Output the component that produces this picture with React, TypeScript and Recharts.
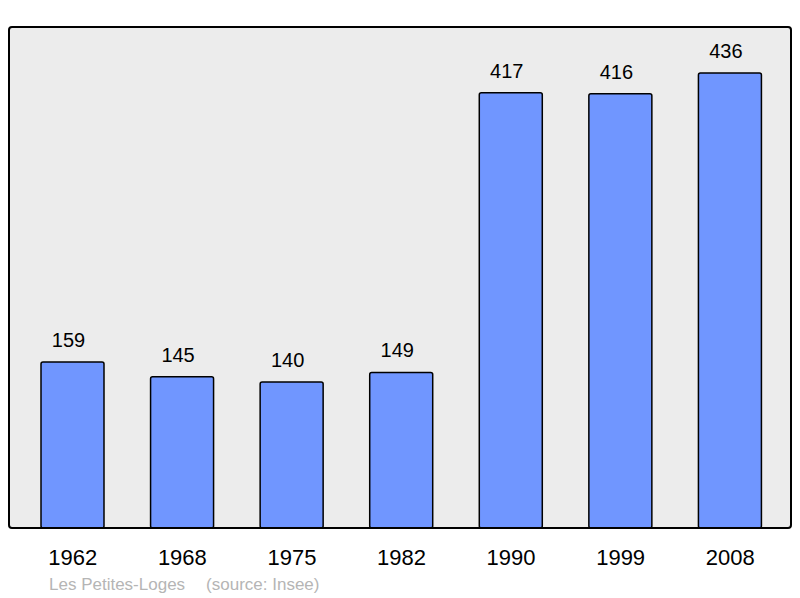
import React from "react";
import { BarChart, Bar, XAxis, YAxis, LabelList } from "recharts";

const years = ["1962", "1968", "1975", "1982", "1990", "1999", "2008"];
const population = [159, 145, 140, 149, 417, 416, 436];
const commune = "Les Petites-Loges";
const source = "(source: Insee)";

const data = years.map((year, i) => ({ year, value: population[i] }));

export default function App() {
  return (
    <div
      style={{
        position: "absolute",
        left: 0,
        top: 0,
        width: 800,
        height: 598,
        background: "#fff",
        fontFamily: "'Liberation Sans', Arial, sans-serif",
      }}
    >
      <div
        style={{
          position: "absolute",
          left: 8,
          top: 26,
          width: 784,
          height: 503,
          background: "#ececec",
          borderRadius: 4,
        }}
      />
      <div style={{ position: "absolute", left: 0, top: 0 }}>
        <BarChart
          width={800}
          height={598}
          data={data}
          margin={{ top: 27, right: 9, left: 9, bottom: 40 }}
        >
          <XAxis
            dataKey="year"
            height={30}
            axisLine={false}
            tickLine={false}
            padding={{ left: 9, right: 6 }}
            tick={{ fontSize: 22, fill: "#000" }}
            tickMargin={15}
            interval={0}
          />
          <YAxis hide domain={[0, 480]} />
          <Bar
            dataKey="value"
            fill="#7096ff"
            stroke="#000"
            strokeWidth={1.5}
            radius={2}
            barSize={63}
            isAnimationActive={false}
          >
            <LabelList
              dataKey="value"
              position="top"
              offset={15}
              dx={-4}
              fontSize={20}
              fill="#000"
            />
          </Bar>
        </BarChart>
      </div>
      <div
        style={{
          position: "absolute",
          left: 8,
          top: 26,
          width: 784,
          height: 503,
          boxSizing: "border-box",
          border: "2px solid #000",
          borderRadius: 4,
          pointerEvents: "none",
        }}
      />
      <div
        style={{
          position: "absolute",
          left: 49,
          top: 576,
          fontSize: 17,
          lineHeight: "17px",
          color: "#b5b5b5",
          whiteSpace: "nowrap",
        }}
      >
        <span>{commune}</span>
        <span style={{ marginLeft: 21 }}>{source}</span>
      </div>
    </div>
  );
}
